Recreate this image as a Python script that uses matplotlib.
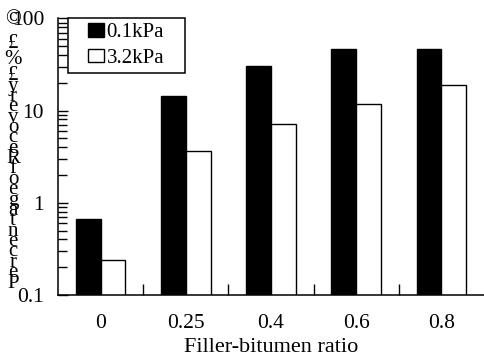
import matplotlib
matplotlib.use("Agg")
import matplotlib.pyplot as plt
import numpy as np
from matplotlib.patches import Rectangle

ratios = ["0", "0.25", "0.4", "0.6", "0.8"]
low_p = [0.665, 14.2, 30.5, 46.9, 46.9]     # 0.1kPa
high_p = [0.237, 3.6, 7.2, 11.9, 19.1]      # 3.2kPa
series_names = ["0.1kPa", "3.2kPa"]
# garbled vertical y label, top to bottom as it shows in the picture
ylabel_chars = ["\u00a9", "\u00a3", "%", "\u00a3", "y", "r", "e", "v", "o", "c", "e", "R",
                "f", "o", "e", "g", "a", "t", "n", "e", "c", "r", "e", "P"]

plt.rcParams['font.family'] = ['Liberation Serif', 'DejaVu Serif']

fig = plt.figure(figsize=(4.84, 3.58), dpi=100)
ax = fig.add_axes([58/484, 1-295/358, 426/484, 276.7/358])

x = np.arange(len(ratios))
w = 0.29
ax.set_yscale('log')
b1 = ax.bar(x - w/2, low_p, w, color='black', edgecolor='black', linewidth=1, label=series_names[0])
b2 = ax.bar(x + w/2, high_p, w, color='white', edgecolor='black', linewidth=1, label=series_names[1])

ax.set_ylim(0.1, 100)
ax.set_xlim(-0.5, len(ratios) - 0.5)
ax.set_yticks([0.1, 1, 10, 100])
ax.set_yticklabels(["0.1", "1", "10", "100"])
ax.set_xticks(x)
ax.set_xticklabels(ratios)
ax.set_xticks(x[:-1] + 0.5, minor=True)

for s in ['top', 'right']:
    ax.spines[s].set_visible(False)
for s in ['left', 'bottom']:
    ax.spines[s].set_linewidth(1.1)

ax.tick_params(axis='y', which='major', direction='in', length=7, width=1, labelsize=15.5, pad=10)
ax.tick_params(axis='y', which='minor', direction='in', length=6.5, width=1)
ax.tick_params(axis='x', which='major', length=0, labelsize=15.5, pad=14)
ax.tick_params(axis='x', which='minor', direction='in', length=8, width=1)

ax.set_xlabel("Filler-bitumen ratio", fontsize=16, labelpad=3)

# legend with a hand drawn frame
ax.add_patch(Rectangle((0.0228, 0.803), 0.275, 0.197, transform=ax.transAxes,
                       facecolor='white', edgecolor='black', linewidth=1.1, zorder=5, clip_on=False))
leg = ax.legend(loc='center', bbox_to_anchor=(0.160, 0.902), frameon=False, fontsize=15,
                handlelength=0.75, handleheight=0.65, handletextpad=0.15, labelspacing=0.3,
                borderpad=0)
leg.set_zorder(6)

# stacked y label characters
top_y = [20, 43, 60, 75]
rest = len(ylabel_chars) - len(top_y)
ys = top_y + list(np.linspace(86, 283, rest))
for ch, yy in zip(ylabel_chars, ys):
    fig.text(13/484, 1 - yy/358, ch, fontsize=15, ha='center', va='center')

fig.savefig("out.png", dpi=100)
